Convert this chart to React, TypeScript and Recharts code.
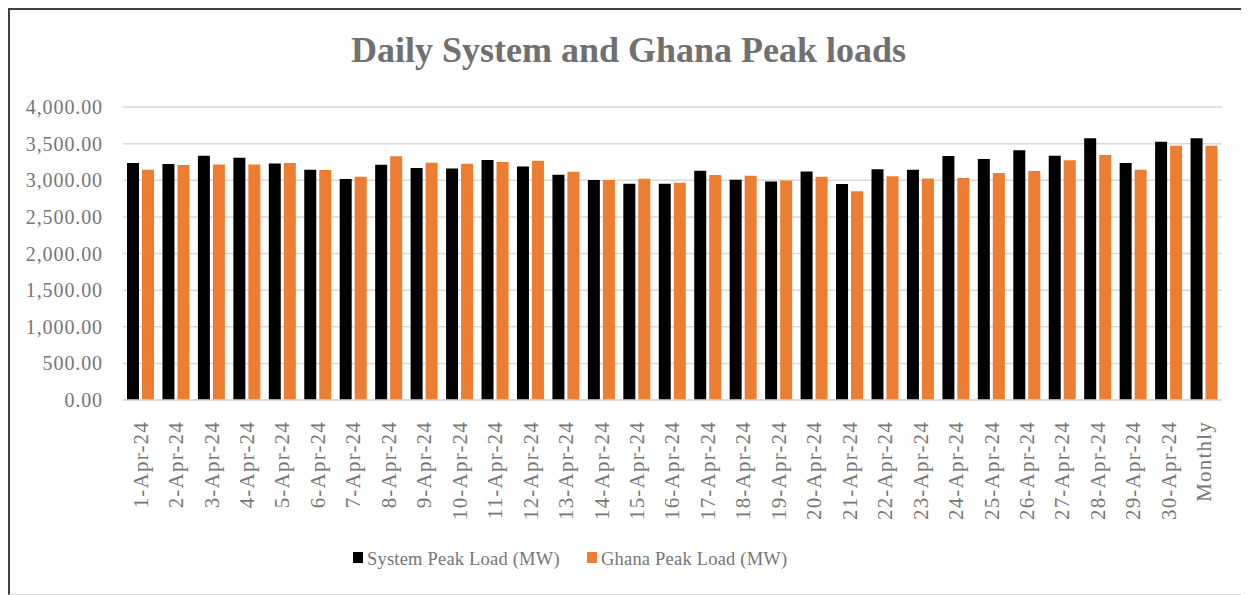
import { BarChart, Bar, XAxis, YAxis, CartesianGrid, Legend } from "recharts";

const days = [
  "1-Apr-24", "2-Apr-24", "3-Apr-24", "4-Apr-24", "5-Apr-24", "6-Apr-24", "7-Apr-24", "8-Apr-24",
  "9-Apr-24", "10-Apr-24", "11-Apr-24", "12-Apr-24", "13-Apr-24", "14-Apr-24", "15-Apr-24",
  "16-Apr-24", "17-Apr-24", "18-Apr-24", "19-Apr-24", "20-Apr-24", "21-Apr-24", "22-Apr-24",
  "23-Apr-24", "24-Apr-24", "25-Apr-24", "26-Apr-24", "27-Apr-24", "28-Apr-24", "29-Apr-24",
  "30-Apr-24", "Monthly",
];

const systemPeak = [
  3235, 3222, 3336, 3308, 3230, 3144, 3016, 3212, 3167, 3162, 3277, 3189, 3075, 3003, 2952,
  2952, 3130, 3007, 2984, 3121, 2948, 3150, 3145, 3331, 3290, 3409, 3336, 3572, 3236, 3527, 3572,
];

const ghanaPeak = [
  3144, 3208, 3216, 3216, 3235, 3140, 3048, 3326, 3240, 3226, 3249, 3267, 3116, 3003, 3020,
  2966, 3071, 3062, 2998, 3048, 2850, 3054, 3023, 3032, 3100, 3127, 3272, 3345, 3145, 3472, 3472,
];

const yTicks = [0, 500, 1000, 1500, 2000, 2500, 3000, 3500, 4000];

const data = days.map((d, i) => ({ day: d, system: systemPeak[i], ghana: ghanaPeak[i] }));

const FONT = "'Liberation Serif', 'Times New Roman', serif";
const TEXT = "#767676";

const fmt = (v: number) =>
  v.toLocaleString("en-US", { minimumFractionDigits: 2, maximumFractionDigits: 2 });

function DayTick(props: any) {
  const { x, y, payload } = props;
  return (
    <g transform={`translate(${x},${y})`}>
      <text
        transform="rotate(-90)"
        x={-13}
        y={0}
        dy="0.33em"
        textAnchor="end"
        fill={TEXT}
        fontFamily={FONT}
        fontSize={21}
        letterSpacing={1.2}
      >
        {payload.value}
      </text>
    </g>
  );
}

function LegendBox() {
  const items = [
    { label: "System Peak Load (MW)", color: "#000000", x: 0 },
    { label: "Ghana Peak Load (MW)", color: "#ED7D31", x: 234 },
  ];
  return (
    <svg width={460} height={30}>
      {items.map((it) => (
        <g key={it.label}>
          <rect x={it.x} y={8} width={10} height={11} fill={it.color} />
          <text x={it.x + 14} y={21} fill={TEXT} fontFamily={FONT} fontSize={18.5} letterSpacing={0.2}>
            {it.label}
          </text>
        </g>
      ))}
    </svg>
  );
}

export default function App() {
  return (
    <div style={{ position: "relative", width: 1241, height: 587, overflow: "hidden", background: "#fff" }}>
      <div
        style={{
          position: "absolute",
          left: 0,
          top: 0,
          width: 1400,
          height: 584,
          borderTop: "2px solid #404040",
          borderLeft: "2px solid #404040",
          borderBottom: "1px solid #d9d9d9",
        }}
      />
      <div
        style={{
          position: "absolute",
          left: 0,
          top: 20,
          width: 1241,
          textAlign: "center",
          fontFamily: FONT,
          fontWeight: "bold",
          fontSize: 36,
          color: "#707070",
          lineHeight: "44px",
        }}
      >
        Daily System and Ghana Peak loads
      </div>
      <div style={{ position: "absolute", left: 0, top: 0 }}>
        <BarChart
          width={1241}
          height={587}
          data={data}
          margin={{ top: 99, right: 27, left: 0, bottom: 45 }}
          barGap={3}
          barSize={12}
        >
          <CartesianGrid vertical={false} stroke="#d9d9d9" strokeWidth={1.5} />
          <XAxis
            dataKey="day"
            interval={0}
            height={120}
            tickLine={false}
            axisLine={{ stroke: "#d9d9d9", strokeWidth: 1.5 }}
            tick={<DayTick />}
          />
          <YAxis
            width={115}
            domain={[0, 4000]}
            ticks={yTicks}
            tickFormatter={fmt}
            axisLine={false}
            tickLine={false}
            tickSize={0}
            tickMargin={20}
            tick={{ fill: TEXT, fontFamily: FONT, fontSize: 20, letterSpacing: 0.9 }}
          />
          <Legend
            content={() => <LegendBox />}
            wrapperStyle={{ position: "absolute", left: 345, top: 536, width: 460, height: 30 }}
          />
          <Bar dataKey="system" name="System Peak Load (MW)" fill="#000000" isAnimationActive={false} />
          <Bar dataKey="ghana" name="Ghana Peak Load (MW)" fill="#ED7D31" isAnimationActive={false} />
        </BarChart>
      </div>
    </div>
  );
}
